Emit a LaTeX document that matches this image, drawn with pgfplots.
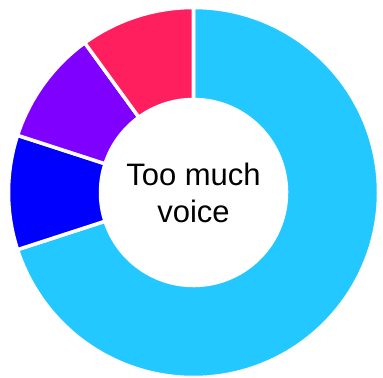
\documentclass[border=0pt]{standalone}
\usepackage{pgfplots}
\usepackage{pgfplotstable}
\pgfplotsset{compat=1.18}
\usetikzlibrary{calc}
\usepackage{fontspec}
\setmainfont{Liberation Sans}
\definecolor{skyc}{HTML}{22C8FF}
\definecolor{bluec}{HTML}{0000FF}
\definecolor{purplec}{HTML}{7F00FF}
\definecolor{pinkc}{HTML}{FF1F5F}
\pgfplotstableread{
label value
A 70
B 10
C 10
D 10
}\donutdata
\begin{document}
\begin{tikzpicture}
\useasboundingbox (0,0) rectangle (383bp,378bp);
\pgfplotstablegetelem{0}{value}\of\donutdata \let\va\pgfplotsretval
\pgfplotstablegetelem{1}{value}\of\donutdata \let\vb\pgfplotsretval
\pgfplotstablegetelem{2}{value}\of\donutdata \let\vc\pgfplotsretval
\pgfplotstablegetelem{3}{value}\of\donutdata \let\vd\pgfplotsretval
\pgfmathsetmacro{\tot}{\va+\vb+\vc+\vd}
\pgfmathsetmacro{\aA}{90}
\pgfmathsetmacro{\aB}{\aA-360*(\va/\tot)}
\pgfmathsetmacro{\aC}{\aB-360*(\vb/\tot)}
\pgfmathsetmacro{\aD}{\aC-360*(\vc/\tot)}
\pgfmathsetmacro{\aE}{\aD-360*(\vd/\tot)}
\def\cx{193.5}\def\cy{185.5}
\def\Ro{185bp}\def\Ri{93bp}
\begin{axis}[
  scale only axis, width=383bp, height=378bp,
  xmin=0, xmax=383, ymin=0, ymax=378,
  hide axis, clip=false,
]
\filldraw[fill=skyc, draw=white, line width=3.5bp, line join=round]
  (axis cs:\cx,\cy) ++(\aA:\Ro) arc[start angle=\aA, end angle=\aB, radius=\Ro]
  -- ($(axis cs:\cx,\cy)+(\aB:\Ri)$) arc[start angle=\aB, end angle=\aA, radius=\Ri] -- cycle;
\filldraw[fill=bluec, draw=white, line width=3.5bp, line join=round]
  (axis cs:\cx,\cy) ++(\aB:\Ro) arc[start angle=\aB, end angle=\aC, radius=\Ro]
  -- ($(axis cs:\cx,\cy)+(\aC:\Ri)$) arc[start angle=\aC, end angle=\aB, radius=\Ri] -- cycle;
\filldraw[fill=purplec, draw=white, line width=3.5bp, line join=round]
  (axis cs:\cx,\cy) ++(\aC:\Ro) arc[start angle=\aC, end angle=\aD, radius=\Ro]
  -- ($(axis cs:\cx,\cy)+(\aD:\Ri)$) arc[start angle=\aD, end angle=\aC, radius=\Ri] -- cycle;
\filldraw[fill=pinkc, draw=white, line width=3.5bp, line join=round]
  (axis cs:\cx,\cy) ++(\aD:\Ro) arc[start angle=\aD, end angle=\aE, radius=\Ro]
  -- ($(axis cs:\cx,\cy)+(\aE:\Ri)$) arc[start angle=\aE, end angle=\aD, radius=\Ri] -- cycle;
\node[align=center, font=\fontsize{31bp}{37bp}\selectfont, inner sep=0pt] at (axis cs:\cx,\cy) {Too much\\voice};
\end{axis}
\end{tikzpicture}
\end{document}
